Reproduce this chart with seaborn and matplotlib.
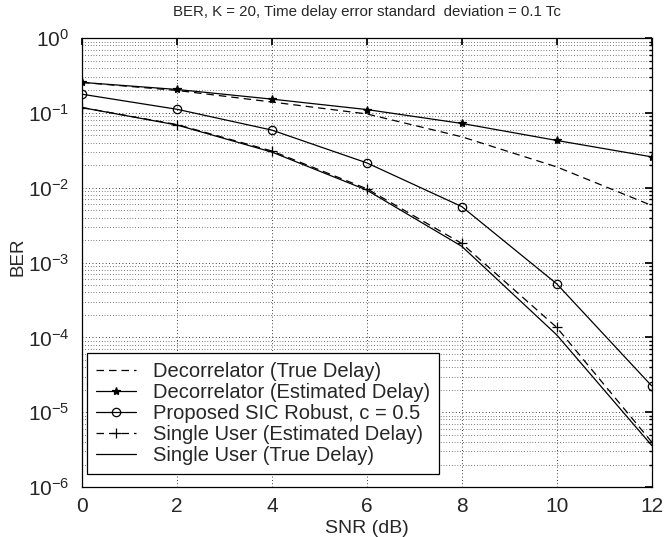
import numpy as np
import pandas as pd
import matplotlib
matplotlib.use("Agg")
import matplotlib.pyplot as plt
from matplotlib.ticker import LogLocator, NullFormatter
import seaborn as sns

snr_db = [0, 2, 4, 6, 8, 10, 12]

decor_true = [0.256, 0.200, 0.140, 0.097, 0.048, 0.019, 0.0058]
decor_est = [0.256, 0.206, 0.153, 0.111, 0.0724, 0.0429, 0.0259]
sic_robust = [0.178, 0.112, 0.059, 0.0215, 0.0056, 0.00052, 0.0000225]
single_est = [0.118, 0.070, 0.031, 0.0097, 0.0018, 0.000136, 0.0000040]
single_true = [0.118, 0.069, 0.030, 0.0093, 0.00165, 0.000108, 0.0000036]

labels = [
    "Decorrelator (True Delay)",
    "Decorrelator (Estimated Delay)",
    "Proposed SIC Robust, c = 0.5",
    "Single User (Estimated Delay)",
    "Single User (True Delay)",
]
series = [decor_true, decor_est, sic_robust, single_est, single_true]
styles = [
    dict(linestyle=(0, (6, 4)), marker=None),
    dict(linestyle="-", marker="*", markersize=6),
    dict(linestyle="-", marker="o", markersize=6, markerfacecolor="none"),
    dict(linestyle=(0, (6, 4)), marker="+", markersize=6.5),
    dict(linestyle="-", marker=None),
]

sns.set_theme(style="white")
plt.rcParams["font.family"] = ["Liberation Sans", "DejaVu Sans"]
plt.rcParams["mathtext.default"] = "regular"

fig = plt.figure(figsize=(6.65, 5.37), dpi=100)
ax = fig.add_axes([0.1233, 0.093, 0.8567, 0.836])

for vals, lab, st in zip(series, labels, styles):
    df = pd.DataFrame({"SNR": snr_db, "BER": vals})
    sns.lineplot(data=df, x="SNR", y="BER", ax=ax, color="black",
                 linewidth=0.9, label=lab, markeredgecolor="black",
                 markeredgewidth=0.9, **st)

ax.set_yscale("log")
ax.set_xlim(0, 12)
ax.set_ylim(1e-6, 1)
ax.set_xticks(snr_db)
ax.yaxis.set_major_locator(LogLocator(base=10, numticks=10))
ax.yaxis.set_minor_locator(LogLocator(base=10, subs=np.arange(2, 10), numticks=20))
ax.yaxis.set_minor_formatter(NullFormatter())

ax.grid(True, which="major", color="black", linestyle=(0, (1, 3)), linewidth=0.6)
ax.grid(True, which="minor", axis="y", color="black", linestyle=(0, (1, 3)), linewidth=0.5)

ax.tick_params(axis="both", which="both", direction="in", top=True, right=True,
               labelsize=15, color="black")
ax.tick_params(axis="both", which="major", length=5)
ax.tick_params(axis="x", which="major", pad=7)
ax.tick_params(axis="y", which="major", pad=9)
ax.tick_params(axis="y", which="minor", length=2.5)
for s in ax.spines.values():
    s.set_color("black")
    s.set_linewidth(0.9)

ax.set_xlabel("SNR (dB)", fontsize=14, labelpad=3)
ax.set_ylabel("BER", fontsize=13.5)
ax.yaxis.set_label_coords(-0.098, 0.512)
ax.set_title("BER, K = 20, Time delay error standard  deviation = 0.1 Tc",
             fontsize=10.8, pad=16)

leg = ax.legend(loc="lower left", bbox_to_anchor=(0.0088, 0.029),
                fontsize=14.5, frameon=True, fancybox=False,
                edgecolor="black", framealpha=1, handlelength=1.98,
                borderaxespad=0, borderpad=0.45, labelspacing=0.1,
                handletextpad=0.85)
leg.get_frame().set_linewidth(0.9)

fig.savefig("out.png", dpi=100)
